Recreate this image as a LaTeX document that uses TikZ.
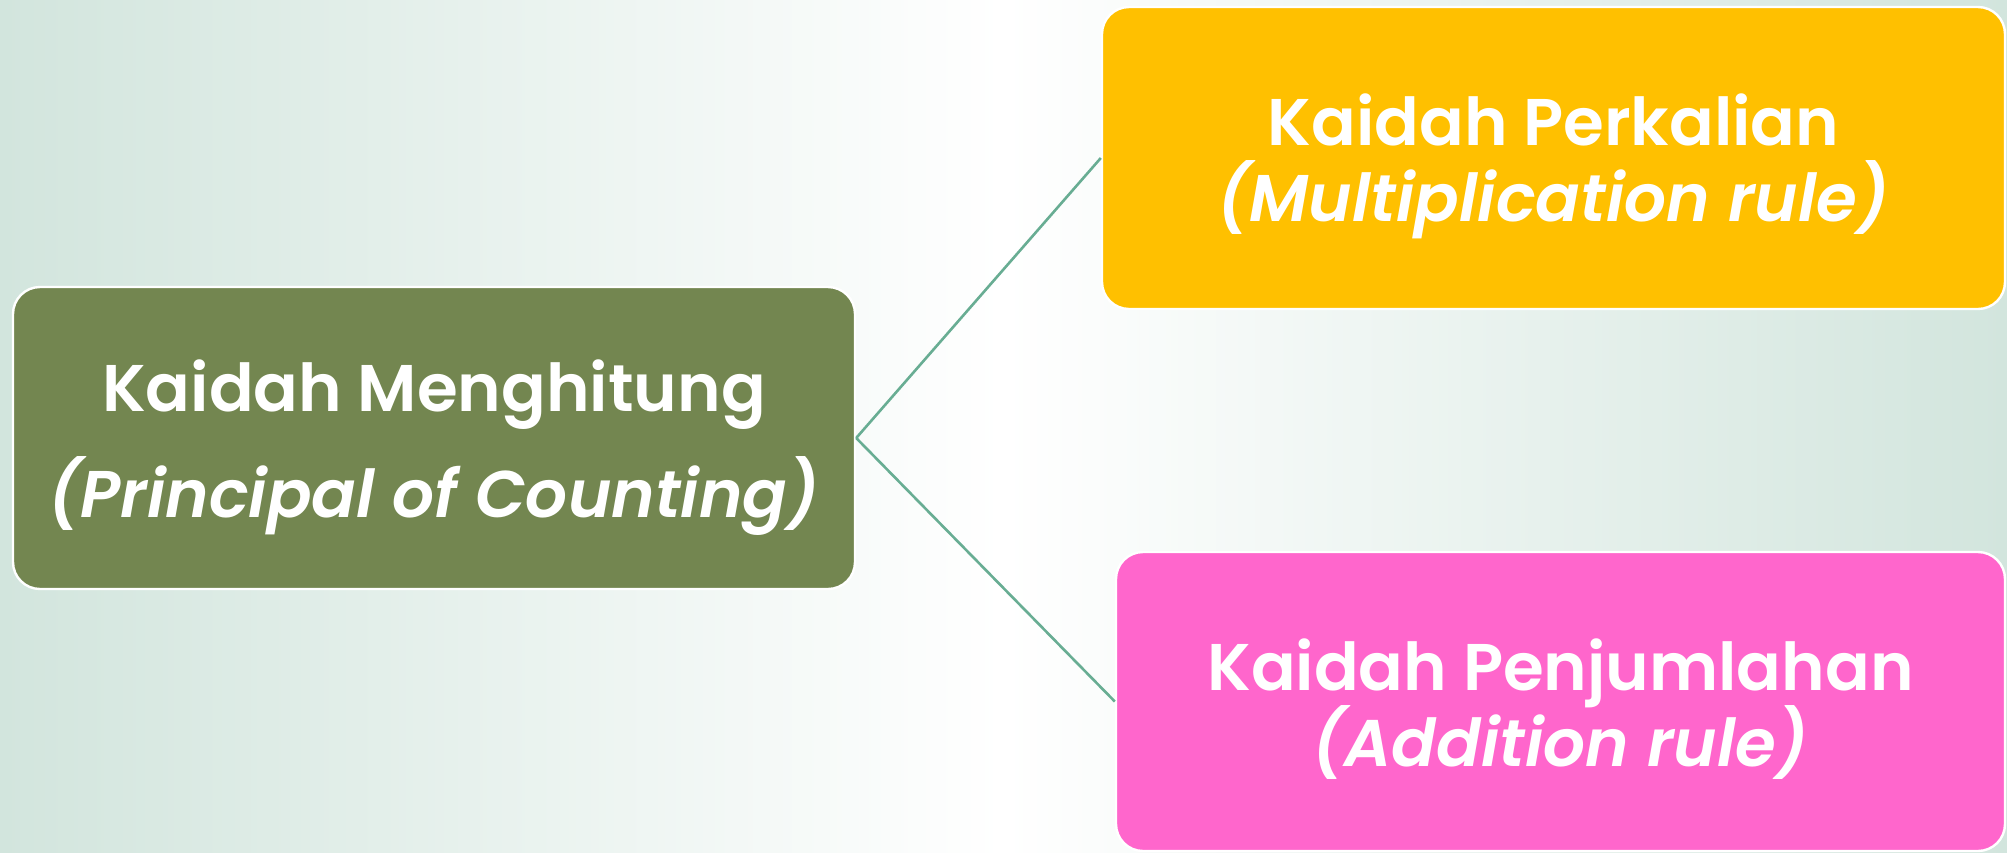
\documentclass[tikz,border=0pt]{standalone}
\usepackage{fontspec}
\setmainfont{Poppins}[BoldFont={* SemiBold},BoldItalicFont={* SemiBold Italic}]
\newcommand\twolines[3]{\vbox{\kern#1\lineskiplimit=-\maxdimen\halign{\hfil##\hfil\cr#2\cr#3\cr}}}
\begin{document}
\begin{tikzpicture}[x=0.5pt,y=-0.5pt,
  box/.style={rectangle,rounded corners=13.5pt,draw=white,line width=1.2pt,inner sep=0pt,text=white},
  link/.style={draw=linkc,line width=1.3pt}]
\definecolor{bgside}{HTML}{D2E5DD}
\definecolor{greenbox}{HTML}{738650}
\definecolor{yellowbox}{HTML}{FFC000}
\definecolor{pinkbox}{HTML}{FF66CC}
\definecolor{linkc}{HTML}{68AD93}
\useasboundingbox (0,0) rectangle (2007,852);
\shade[left color=bgside,right color=bgside,middle color=white] (0,0) rectangle (2007,852);
\node[box,fill=greenbox,minimum width=421pt,minimum height=151pt,font=\bfseries\fontsize{33}{53}\selectfont] (g) at (434,438)
  {\twolines{10pt}{Kaidah Menghitung}{\textit{(Principal of Counting)}}};
\node[box,fill=yellowbox,minimum width=451.5pt,minimum height=151pt,font=\bfseries\fontsize{33}{38}\selectfont] (y) at (1553.5,158)
  {\twolines{8pt}{Kaidah Perkalian}{\textit{(Multiplication rule)}}};
\node[box,fill=pinkbox,minimum width=444.5pt,minimum height=149.5pt,font=\bfseries\fontsize{33}{38}\selectfont] (p) at (1560.5,701.5)
  {\twolines{8pt}{Kaidah Penjumlahan}{\textit{(Addition rule)}}};
\draw[link] (g.east) -- (y.west);
\draw[link] (g.east) -- (p.west);
\end{tikzpicture}
\end{document}
